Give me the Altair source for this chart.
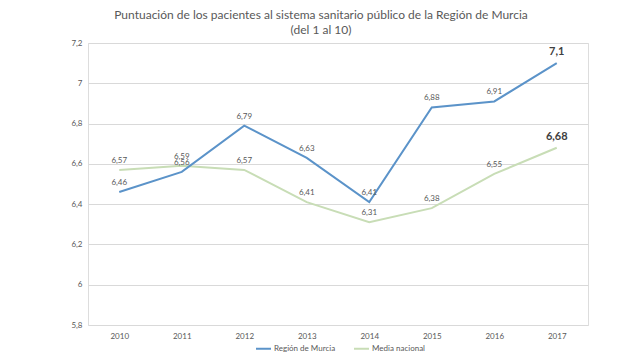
import altair as alt
import pandas as pd

years = ["2010", "2011", "2012", "2013", "2014", "2015", "2016", "2017"]
murcia = [6.46, 6.56, 6.79, 6.63, 6.41, 6.88, 6.91, 7.1]
nacional = [6.57, 6.59, 6.57, 6.41, 6.31, 6.38, 6.55, 6.68]
series = ["Región de Murcia", "Media nacional"]
colors = ["#5b93c9", "#c8ddb6"]
y_ticks = [5.8, 6.0, 6.2, 6.4, 6.6, 6.8, 7.0, 7.2]

rows = []
for s, vals in zip(series, [murcia, nacional]):
    for yr, v in zip(years, vals):
        rows.append({"year": yr, "value": v, "serie": s})
df = pd.DataFrame(rows)

FONT = "Lato"
GRAY = "#595959"

x = alt.X("year:N", sort=years, scale=alt.Scale(type="point", padding=0.5),
          axis=alt.Axis(title=None, labelAngle=0, ticks=False, domain=False, grid=False,
                        labelFontSize=8, labelColor=GRAY, labelFont=FONT, labelPadding=7))
y = alt.Y("value:Q", scale=alt.Scale(domain=[5.8, 7.2], nice=False, zero=False),
          axis=alt.Axis(title=None, values=y_ticks, ticks=False, domain=False,
                        gridColor="#d9d9d9", gridWidth=1,
                        labelFontSize=8, labelColor=GRAY, labelFont=FONT, labelPadding=6,
                        labelExpr="replace(format(datum.value, '.1~f'), '.', ',')"))
color = alt.Color("serie:N", scale=alt.Scale(domain=series, range=colors),
                  legend=alt.Legend(title=None, orient="none", direction="horizontal",
                                    legendX=167, legendY=297, symbolType="stroke",
                                    symbolStrokeWidth=2, symbolSize=225,
                                    labelFontSize=8, labelColor=GRAY, labelFont=FONT,
                                    columnPadding=14, labelOffset=2))

base = alt.Chart(df).transform_calculate(
    label="replace(toString(datum.value), '.', ',')",
)

nac_line = base.transform_filter("datum.serie == 'Media nacional'").mark_line(strokeWidth=2).encode(
    x=x, y=y, color=color)
mur_line = base.transform_filter("datum.serie == 'Región de Murcia'").mark_line(strokeWidth=2).encode(
    x=x, y=y, color=color)

labels = base.transform_filter("datum.year != '2017'").mark_text(
    dy=-9, fontSize=8, color=GRAY, font=FONT).encode(x=x, y=y, text="label:N")
bold = base.transform_filter("datum.year == '2017'").mark_text(
    dy=-11, fontSize=11, fontWeight="bold", color="#404040", font=FONT).encode(x=x, y=y, text="label:N")

chart = alt.layer(nac_line, mur_line, labels, bold).properties(
    width=500, height=282,
    padding={"left": 80, "top": 35, "right": 44, "bottom": 28},
    autosize=alt.AutoSizeParams(type="none"),
    title=alt.TitleParams(
        text=["Puntuación de los pacientes al sistema sanitario público de la Región de Murcia",
              "(del 1 al 10)"],
        fontSize=12, font=FONT, fontWeight="normal", color=GRAY, anchor="middle",
        dx=-17, offset=2, lineHeight=15),
).configure_view(stroke=None).configure(background="white")

chart.save("out.html", embed_options={"renderer": "svg", "actions": False})
